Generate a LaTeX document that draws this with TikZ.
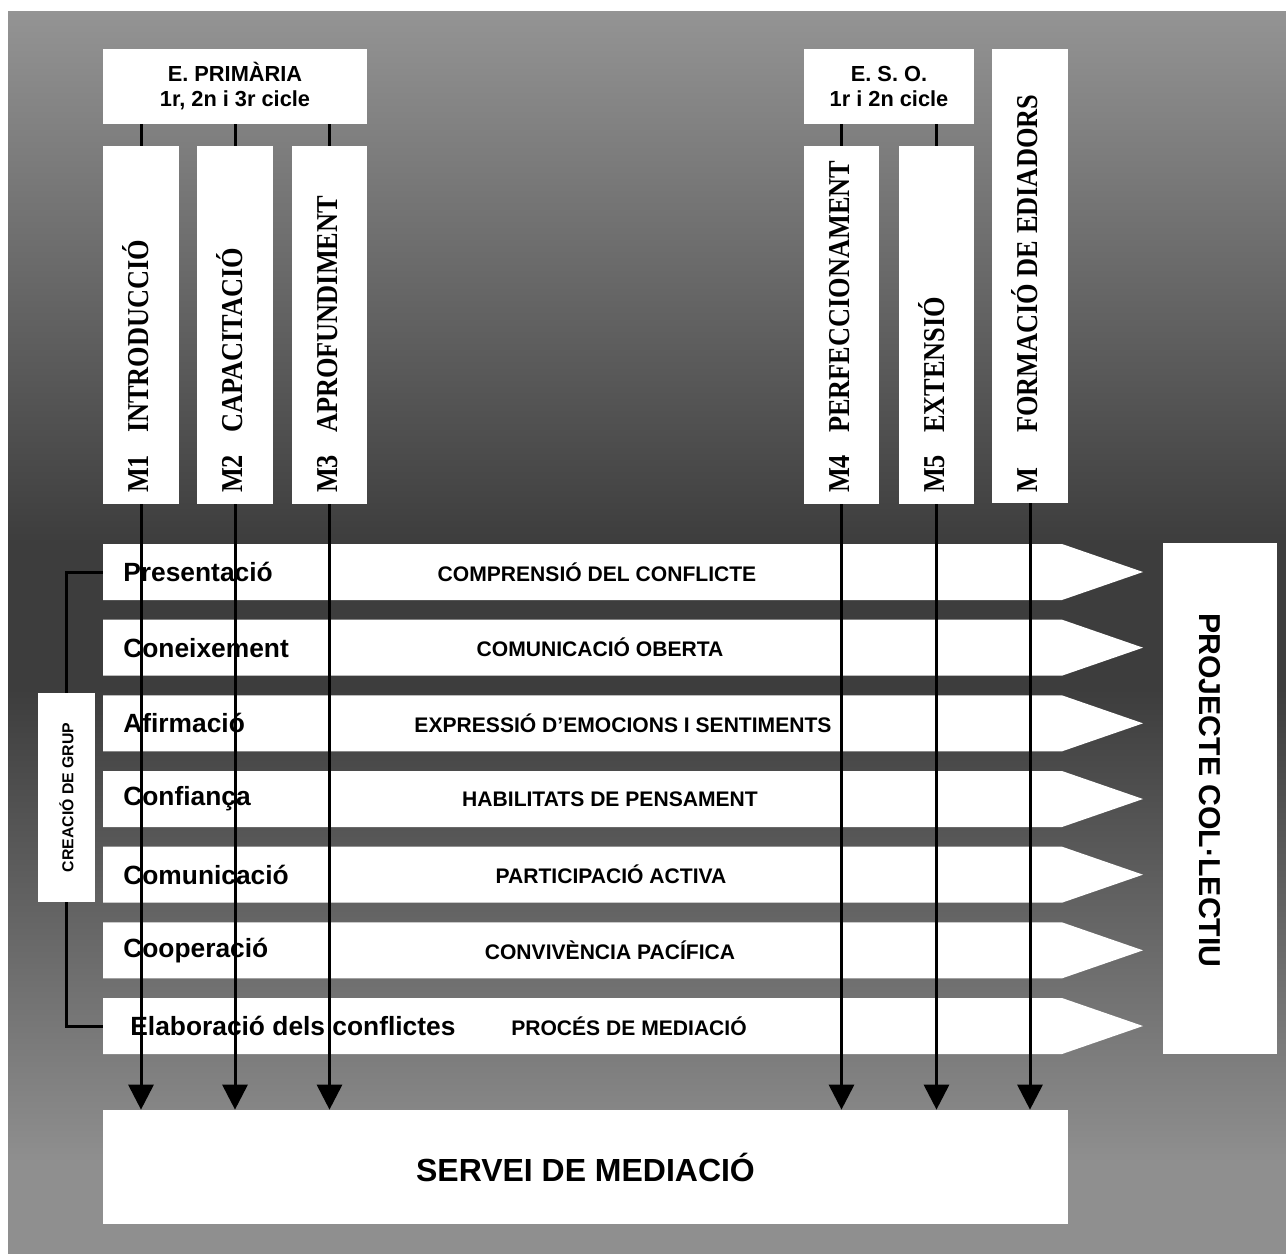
\documentclass[tikz,border=0pt]{standalone}
\usepackage{fontspec}
\setmainfont{Liberation Serif}
\setsansfont{Liberation Sans}
\usetikzlibrary{arrows.meta,calc}

\definecolor{bgtop}{gray}{0.58}
\definecolor{bgdark}{gray}{0.24}
\definecolor{bgbot}{gray}{0.56}

\begin{document}
\begin{tikzpicture}[x=0.02cm, y=-0.02cm, >={Triangle[width=0.5cm,length=0.5cm]},
	box/.style={fill=white, inner sep=0pt},
	modbox/.style={box, minimum width=1.52cm, minimum height=7.16cm},
	modtxt/.style={rotate=90, anchor=base west, inner sep=0pt, font=\bfseries\fontsize{15}{18}\selectfont},
	headtxt/.style={align=center, font=\sffamily\bfseries\fontsize{12.4}{14.2}\selectfont},
	lbl/.style={anchor=west, inner sep=0pt, font=\sffamily\bfseries\fontsize{15}{18}\selectfont},
	ctrlbl/.style={inner sep=0pt, font=\sffamily\bfseries\fontsize{12}{14}\selectfont},
	link/.style={line width=0.06cm}]
	
	\useasboundingbox (0,0) rectangle (1286,1254);
	\fill[white] (0,0) rectangle (1286,1254);
	
	% background shading
	\shade[top color=bgtop, bottom color=bgdark] (8,11) rectangle (1286,541);
	\fill[bgdark] (8,540) rectangle (1286,691);
	\shade[top color=bgdark, bottom color=bgbot] (8,690) rectangle (1286,1161);
	\fill[bgbot] (8,1160) rectangle (1286,1254);
	
	% headers
	\node[box, minimum width=5.28cm, minimum height=1.5cm, headtxt] (prim) at (235,86.5)
	{E. PRIMÀRIA\\1r, 2n i 3r cicle};
	\node[box, minimum width=3.4cm, minimum height=1.5cm, headtxt] (eso) at (889,86.5)
	{E. S. O.\\1r i 2n cicle};
	
	% modules
	\foreach \nm/\cx/\mk/\lab in {m1/141/M1/INTRODUCCIÓ, m2/235/M2/CAPACITACIÓ,
		m3/329.5/M3/APROFUNDIMENT, m4/841.5/M4/PERFECCIONAMENT, m5/936.5/M5/EXTENSIÓ}{
		\node[modbox] (\nm) at (\cx,325) {};
		\node[modtxt] at ($(\nm.south west)+(46,-11)$)
		{\scalebox{1}[1.15]{\makebox[1.2cm][l]{\mk}\lab}};
	}
	\node[box, minimum width=1.52cm, minimum height=9.08cm] (mf) at (1030,276) {};
	\node[modtxt] at ($(mf.south west)+(46,-10)$)
	{\scalebox{1}[1.15]{\makebox[1.2cm][l]{M}FORMACIÓ DE EDIADORS}};
	
	\foreach \nm in {m1,m2,m3}
	\draw[link] (prim.south -| \nm.north) -- (\nm.north);
	\foreach \nm in {m4,m5}
	\draw[link] (eso.south -| \nm.north) -- (\nm.north);
	
	% bands
	\foreach \i/\lx/\lft/\ctr/\cx in {1/123/Presentació/COMPRENSIÓ DEL CONFLICTE/597,
		2/123/Coneixement/COMUNICACIÓ OBERTA/600,
		3/123/Afirmació/EXPRESSIÓ D’EMOCIONS I SENTIMENTS/623,
		4/123/Confiança/HABILITATS DE PENSAMENT/610,
		5/123/Comunicació/PARTICIPACIÓ ACTIVA/611,
		6/123/Cooperació/CONVIVÈNCIA PACÍFICA/610,
		7/130/Elaboració dels conflictes/PROCÉS DE MEDIACIÓ/629}{
		\pgfmathsetmacro\yt{544+75.67*(\i-1)}
		\fill[white] (103,\yt) -- ++(959,0) -- ++(81,28) -- ++(-81,28) -- ++(-959,0) -- cycle;
		\coordinate (b\i) at (103,\yt+28);
		\node[lbl] (l\i) at (\lx,\yt+28) {\lft};
		\node[ctrlbl] (c\i) at (\cx,\yt+28) {\ctr};
	}
	
	% group creation
	\node[box, minimum width=1.14cm, minimum height=4.18cm] (crea) at (66.5,797.5) {};
	\node[rotate=90, inner sep=0pt, font=\sffamily\bfseries\fontsize{9}{11}\selectfont]
	at (crea.center) {CREACIÓ DE GRUP};
	\draw[link] (crea.north) |- (b1);
	\draw[link] (crea.south) |- (b7);
	
	% collective project
	\node[box, minimum width=2.28cm, minimum height=10.22cm] (proj) at (1220,798.5) {};
	\node[rotate=-90, inner sep=0pt, font=\sffamily\bfseries\fontsize{17.2}{20}\selectfont]
	at ($(proj.center)+(-10,-8)$) {PROJECTE COL·LECTIU};
	
	% mediation service
	\node[box, minimum width=19.3cm, minimum height=2.28cm,
	font=\sffamily\bfseries\fontsize{18.2}{22}\selectfont] (serv) at (585.5,1167)
	{SERVEI DE MEDIACIÓ};
	
	\foreach \nm in {m1,m2,m3,m4,m5,mf}
	\draw[link,->] (\nm.south) -- (\nm.south |- serv.north);
	
\end{tikzpicture}
\end{document}
